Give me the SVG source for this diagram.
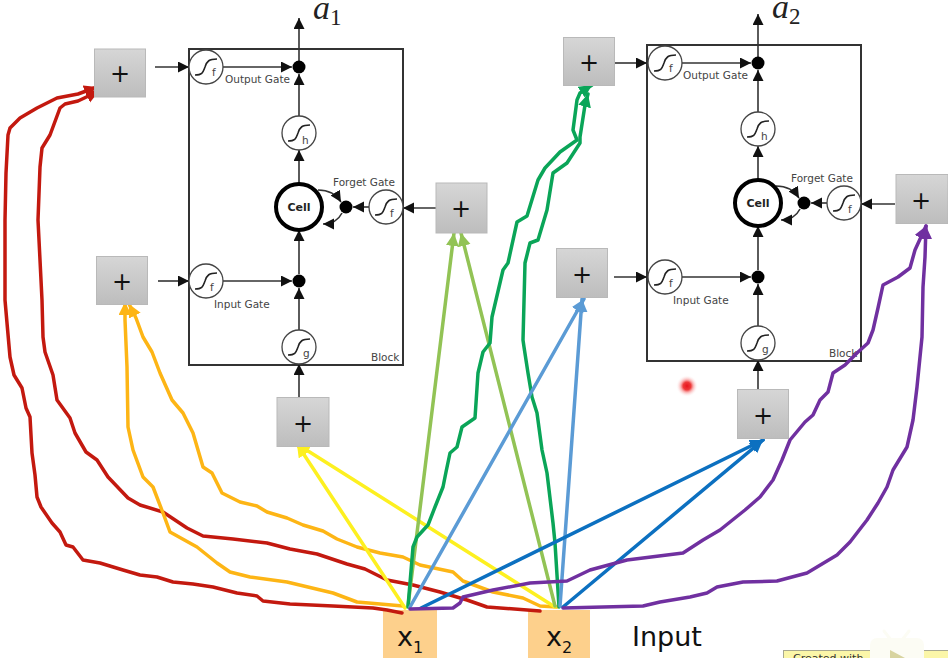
<svg xmlns="http://www.w3.org/2000/svg" width="948" height="658" viewBox="0 0 948 658">
  <style>
    text { font-family: "DejaVu Sans", sans-serif; }
    .frame { fill: #fff; stroke: #333; stroke-width: 2; }
    .gate { fill: #fff; stroke: #444; stroke-width: 1.3; }
    .curve { fill: none; stroke: #222; stroke-width: 1.6; }
    .dot { fill: #000; }
    .cell { fill: #fff; stroke: #000; stroke-width: 4; }
    .wire { fill: none; stroke: #333; stroke-width: 1.6; marker-end: url(#head); }
    .label { font-size: 10.5px; fill: #444; }
    .fn { font-size: 10.5px; fill: #444; }
    .sum { fill: url(#sumFill); stroke: #b9b9b9; stroke-width: 1; }
    .plus { font-size: 24px; fill: #111; text-anchor: middle; }
    .input { fill: #fdd08c; }
    .ink { fill: none; stroke-width: 3.500; stroke-linejoin: round; stroke-linecap: round; }
    .red { stroke: #c3190f; marker-end: url(#hRed); }
    .orange { stroke: #fdb515; marker-end: url(#hOrange); }
    .yellow { stroke: #fdf020; marker-end: url(#hYellow); }
    .lime { stroke: #92c355; marker-end: url(#hLime); }
    .green { stroke: #0aa558; marker-end: url(#hGreen); }
    .sky { stroke: #5b9bd5; marker-end: url(#hSky); }
    .blue { stroke: #0c70c0; marker-end: url(#hBlue); }
    .violet { stroke: #7030a0; marker-end: url(#hViolet); }
    .out { font-family: "Liberation Serif", serif; font-style: italic; fill: #222; }
    .sub { font-family: "Liberation Serif", serif; fill: #222; }
  </style>
  <defs>
    <linearGradient id="sumFill" x1="0" y1="0" x2="0" y2="1">
      <stop offset="0" stop-color="#d6d6d6"/>
      <stop offset="1" stop-color="#bdbdbd"/>
    </linearGradient>
    <radialGradient id="laser">
      <stop offset="0" stop-color="#e8141c"/>
      <stop offset="0.35" stop-color="#ee3a3a"/>
      <stop offset="0.55" stop-color="#f9a9a9"/>
      <stop offset="1" stop-color="#fff" stop-opacity="0"/>
    </radialGradient>
    <marker id="head" markerUnits="userSpaceOnUse" markerWidth="12" markerHeight="12" refX="11" refY="5.5" orient="auto"><path d="M0 0L11 5.5L0 11z" fill="#111"/></marker>
    <marker id="hRed" markerUnits="userSpaceOnUse" markerWidth="14" markerHeight="14" refX="13" refY="6.5" orient="auto"><path d="M0 0L13 6.5L0 13z" fill="#c3190f"/></marker>
    <marker id="hOrange" markerUnits="userSpaceOnUse" markerWidth="14" markerHeight="14" refX="13" refY="6.5" orient="auto"><path d="M0 0L13 6.5L0 13z" fill="#fdb515"/></marker>
    <marker id="hYellow" markerUnits="userSpaceOnUse" markerWidth="14" markerHeight="14" refX="13" refY="6.5" orient="auto"><path d="M0 0L13 6.5L0 13z" fill="#fdf020"/></marker>
    <marker id="hLime" markerUnits="userSpaceOnUse" markerWidth="14" markerHeight="14" refX="13" refY="6.5" orient="auto"><path d="M0 0L13 6.5L0 13z" fill="#92c355"/></marker>
    <marker id="hGreen" markerUnits="userSpaceOnUse" markerWidth="14" markerHeight="14" refX="13" refY="6.5" orient="auto"><path d="M0 0L13 6.5L0 13z" fill="#0aa558"/></marker>
    <marker id="hSky" markerUnits="userSpaceOnUse" markerWidth="14" markerHeight="14" refX="13" refY="6.5" orient="auto"><path d="M0 0L13 6.5L0 13z" fill="#5b9bd5"/></marker>
    <marker id="hBlue" markerUnits="userSpaceOnUse" markerWidth="14" markerHeight="14" refX="13" refY="6.5" orient="auto"><path d="M0 0L13 6.5L0 13z" fill="#0c70c0"/></marker>
    <marker id="hViolet" markerUnits="userSpaceOnUse" markerWidth="14" markerHeight="14" refX="13" refY="6.5" orient="auto"><path d="M0 0L13 6.5L0 13z" fill="#7030a0"/></marker>
    <path id="sig" class="curve" d="M-11 8C-3 8 -3 5 -1 0C1 -6 3 -8 11 -8"/>
  </defs>

  <rect width="948" height="658" fill="#fff"/>

  <!-- LSTM blocks -->
  <g id="block1"><rect class="frame" x="189" y="49" width="214" height="316"/><text class="label" x="371" y="361">Block</text></g>
  <g id="block2"><rect class="frame" x="647" y="45" width="214" height="316"/><text class="label" x="829" y="357">Block</text></g>

  <!-- inputs, with the strokes painted over their top edge -->
  <g id="input-x1"><rect class="input" x="383" y="610" width="54" height="48"/><text x="397" y="646" font-family="Lato, sans-serif" font-size="27" fill="#111">x</text><text x="413" y="653" font-family="Lato, sans-serif" font-size="16" fill="#111">1</text></g>
  <g id="input-x2"><rect class="input" x="528" y="610" width="62" height="48"/><text x="546" y="646" font-family="Lato, sans-serif" font-size="27" fill="#111">x</text><text x="562" y="653" font-family="Lato, sans-serif" font-size="16" fill="#111">2</text></g>
  <g id="input-label"><text x="632" y="646" font-family="Lato, sans-serif" font-size="27" fill="#111">Input</text></g>

  <!-- black wiring inside and around the blocks -->
  <g id="connectors">
    <path class="wire" d="M299 61V18"/>
    <path class="wire" d="M155 67H189"/>
    <path class="wire" d="M223 67H292"/>
    <path class="wire" d="M299 116V74"/>
    <path class="wire" d="M299 184V150"/>
    <path class="wire" d="M299 274V230"/>
    <path class="wire" d="M299 330V288"/>
    <path class="wire" d="M223 281H292"/>
    <path class="wire" d="M158 281H189"/>
    <path class="wire" d="M299 397V364"/>
    <path class="wire" d="M436 208H403"/>
    <path class="wire" d="M369 207H353"/>
    <path class="wire" d="M318 190C328 190 336 194 341 202"/>
    <path class="wire" d="M342 213C338 221 332 224 323 224"/>

    <path class="wire" d="M758 57V14"/>
    <path class="wire" d="M615 63H647"/>
    <path class="wire" d="M681 63H751"/>
    <path class="wire" d="M758 112V70"/>
    <path class="wire" d="M758 180V146"/>
    <path class="wire" d="M758 270V226"/>
    <path class="wire" d="M758 326V284"/>
    <path class="wire" d="M681 277H751"/>
    <path class="wire" d="M614 277H647"/>
    <path class="wire" d="M758 389V360"/>
    <path class="wire" d="M895 204H861"/>
    <path class="wire" d="M827 203H811"/>
    <path class="wire" d="M776 186C786 186 794 190 799 198"/>
    <path class="wire" d="M800 209C796 217 790 220 781 220"/>

    <!-- hand-drawn input strokes -->
    <polyline class="ink red" points="402,613 387,610 373,608 333,606 290,604 263,601 257,596 237,593 213,587 193,584 173,582 157,577 140,575 123,570 100,563 83,560 73,547 66,545 60,532 52,523 41,507 37,497 35,475 32,453 30,417 26,408 22,388 14,375 10,357 7,323 5,300 5,220 6,173 8,135 10,128 20,118 37,108 57,98 78,94 97,87"/>
    <polyline class="ink red" points="540,611 487,607 467,600 440,592 413,585 387,580 365,569 347,564 317,554 290,549 267,543 233,539 203,536 187,528 163,512 140,505 128,498 108,477 97,460 86,452 75,433 70,418 57,400 53,375 45,352 43,337 42,300 38,220 40,167 42,148 50,135 60,108 65,104 78,101 99,91"/>

    <polyline class="ink orange" points="403,606 357,602 333,593 287,582 250,577 230,572 217,563 197,547 170,532 163,513 153,487 143,477 133,450 128,427 127,367 125,320 125,302"/>
    <polyline class="ink orange" points="557,607 540,606 523,598 493,592 463,581 453,572 420,565 403,557 380,553 357,547 337,539 323,531 303,525 287,518 267,512 257,506 240,502 222,493 212,473 203,467 193,433 183,413 172,400 160,373 152,352 143,337 136,318 129,304"/>
    <line class="ink yellow" x1="405" y1="608" x2="297" y2="444"/>
    <line class="ink yellow" x1="555" y1="607" x2="297" y2="444"/>

    <line class="ink lime" x1="408" y1="606" x2="454" y2="233"/>
    <line class="ink lime" x1="555" y1="606" x2="461" y2="233"/>

    <polyline class="ink green" points="408,607 413,547 417,537 428,525 435,507 443,487 446,472 450,453 457,447 462,427 475,418 478,373 483,352 490,343 492,317 503,270 508,263 517,222 527,216 538,180 545,168 560,152 577,140 573,130 577,100 580,93 592,85"/>
    <polyline class="ink green" points="559,607 555,543 553,523 547,473 542,450 537,413 532,397 528,373 524,347 523,340 525,263 530,243 538,240 547,210 553,173 567,163 580,143 580,137 585,105 588,94"/>

    <line class="ink sky" x1="410" y1="607" x2="584" y2="299"/>
    <line class="ink sky" x1="560" y1="606" x2="582" y2="299"/>
    <line class="ink blue" x1="421" y1="608" x2="763" y2="440"/>
    <line class="ink blue" x1="563" y1="607" x2="763" y2="440"/>

    <polyline class="ink violet" points="410,609 453,608 460,603 463,597 493,590 530,583 567,581 590,570 627,560 683,553 703,540 720,530 745,510 760,497 773,480 782,460 790,440 805,422 813,415 820,400 828,392 833,373 845,365 857,353 868,343 873,330 878,308 883,285 898,277 910,268 915,250 926,226"/>
    <polyline class="ink violet" points="563,608 643,606 660,602 690,597 707,593 717,587 743,582 777,581 807,573 837,555 850,542 867,520 878,503 887,487 893,470 907,447 913,420 917,387 922,337 923,287 925,257 926,226"/>
  </g>

  <!-- block 1 gates -->
  <g id="gate-output-1"><circle class="gate" cx="206" cy="67" r="17"/><use href="#sig" x="206" y="67"/><text class="fn" x="212" y="76">f</text><text class="label" x="225" y="83">Output Gate</text></g>
  <g id="gate-output-dot-1"><circle class="dot" cx="299" cy="67" r="6.5"/></g>
  <g id="activation-h-1"><circle class="gate" cx="299" cy="133" r="17"/><use href="#sig" x="299" y="133"/><text class="fn" x="302" y="144">h</text></g>
  <g id="cell-1"><circle class="cell" cx="299" cy="207" r="23"/><text x="299" y="211" font-size="11" font-weight="700" text-anchor="middle" fill="#222">Cell</text></g>
  <g id="gate-forget-dot-1"><circle class="dot" cx="346" cy="207" r="6.5"/></g>
  <g id="gate-forget-1"><circle class="gate" cx="386" cy="207" r="17"/><use href="#sig" x="386" y="207"/><text class="fn" x="390" y="217">f</text><text class="label" x="333" y="186">Forget Gate</text></g>
  <g id="gate-input-1"><circle class="gate" cx="206" cy="281" r="17"/><use href="#sig" x="206" y="281"/><text class="fn" x="210" y="291">f</text><text class="label" x="214" y="308">Input Gate</text></g>
  <g id="gate-input-dot-1"><circle class="dot" cx="299" cy="281" r="6.5"/></g>
  <g id="activation-g-1"><circle class="gate" cx="299" cy="347" r="17"/><use href="#sig" x="299" y="347"/><text class="fn" x="303" y="357">g</text></g>
  <g id="output-1"><text class="out" x="313" y="19" font-size="34">a</text><text class="sub" x="330" y="25" font-size="23">1</text></g>

  <!-- block 2 gates -->
  <g id="gate-output-2"><circle class="gate" cx="665" cy="63" r="17"/><use href="#sig" x="665" y="63"/><text class="fn" x="669" y="72">f</text><text class="label" x="683" y="79">Output Gate</text></g>
  <g id="gate-output-dot-2"><circle class="dot" cx="758" cy="63" r="6.5"/></g>
  <g id="activation-h-2"><circle class="gate" cx="758" cy="129" r="17"/><use href="#sig" x="758" y="129"/><text class="fn" x="761" y="140">h</text></g>
  <g id="cell-2"><circle class="cell" cx="758" cy="203" r="23"/><text x="758" y="207" font-size="11" font-weight="700" text-anchor="middle" fill="#222">Cell</text></g>
  <g id="gate-forget-dot-2"><circle class="dot" cx="804" cy="203" r="6.5"/></g>
  <g id="gate-forget-2"><circle class="gate" cx="844" cy="203" r="17"/><use href="#sig" x="844" y="203"/><text class="fn" x="848" y="213">f</text><text class="label" x="791" y="182">Forget Gate</text></g>
  <g id="gate-input-2"><circle class="gate" cx="665" cy="277" r="17"/><use href="#sig" x="665" y="277"/><text class="fn" x="669" y="287">f</text><text class="label" x="673" y="304">Input Gate</text></g>
  <g id="gate-input-dot-2"><circle class="dot" cx="758" cy="277" r="6.5"/></g>
  <g id="activation-g-2"><circle class="gate" cx="758" cy="343" r="17"/><use href="#sig" x="758" y="343"/><text class="fn" x="762" y="353">g</text></g>
  <g id="output-2"><text class="out" x="772" y="18" font-size="34">a</text><text class="sub" x="789" y="24" font-size="23">2</text></g>

  <!-- summing boxes -->
  <g id="sum-1"><rect class="sum" x="94.500" y="49" width="51" height="48"/><text class="plus" x="120" y="82">+</text></g>
  <g id="sum-2"><rect class="sum" x="96.500" y="256.500" width="51" height="48"/><text class="plus" x="122" y="290">+</text></g>
  <g id="sum-3"><rect class="sum" x="277" y="397.500" width="52" height="49"/><text class="plus" x="303" y="432">+</text></g>
  <g id="sum-4"><rect class="sum" x="436" y="183" width="51" height="50"/><text class="plus" x="461" y="217">+</text></g>
  <g id="sum-5"><rect class="sum" x="563.500" y="37.500" width="51" height="48"/><text class="plus" x="589" y="71">+</text></g>
  <g id="sum-6"><rect class="sum" x="556.500" y="248.500" width="51" height="49"/><text class="plus" x="582" y="283">+</text></g>
  <g id="sum-7"><rect class="sum" x="737.500" y="389.500" width="51" height="49"/><text class="plus" x="763" y="424">+</text></g>
  <g id="sum-8"><rect class="sum" x="896" y="174.500" width="52" height="49"/><text class="plus" x="921" y="209">+</text></g>

  <!-- pointer spot and corner tag -->
  <circle cx="687" cy="386" r="11" fill="url(#laser)"/>
  <rect x="783.500" y="650.500" width="170" height="12" fill="#fbf6a8" stroke="#a8a890"/>
  <text x="793" y="662" font-family="'Liberation Sans', sans-serif" font-size="11" fill="#333">Created with</text>
  <path d="M884 631L891 640M909 631L902 640" stroke="#fcfcf4" stroke-width="3" stroke-linecap="round"/>
  <rect x="870" y="638" width="54" height="32" rx="7" fill="#fcfcf4"/>
  <path d="M890 650L905 658H890z" fill="#d8d4a0"/>
</svg>
